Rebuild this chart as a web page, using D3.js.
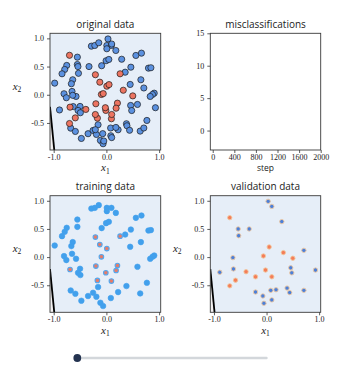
<!DOCTYPE html>
<html><head><meta charset="utf-8">
<script src="https://cdn.jsdelivr.net/npm/d3@7"></script>
<style>body{margin:0;background:#fff}</style>
</head><body><svg id="c" width="358" height="376"></svg>
<script>
// ---------- data ----------
const trainBlueX = [-0.285,-0.22,-0.145,0.008,0.095,0.008,0.179,-0.551,-0.551,-0.09,-0.006,0.046,0.559,0.665,-0.753,-0.791,-0.842,-0.981,-0.639,-0.665,0.356,0.464,0.798,0.844,0.451,0.654,-0.652,-0.804,-0.76,-0.576,-0.50,-0.538,-0.494,0.589,0.907,0.875,0.831,-0.158,-0.677,-0.589,-0.475,-0.348,-0.253,-0.19,-0.114,-0.063,0.768,0.38,0.222,0.641,0.084];
const trainBlueY = [0.862,0.874,0.922,0.874,0.874,0.816,0.785,0.667,0.537,0.515,0.603,0.626,0.697,0.738,0.52,0.449,0.372,0.206,0.266,0.195,0.40,0.489,0.472,0.479,0.183,0.266,0.059,0.018,-0.053,-0.03,-0.207,-0.278,-0.319,-0.172,0.028,0.005,-0.03,-0.532,-0.592,-0.651,-0.775,-0.691,-0.633,-0.704,-0.81,-0.869,-0.456,-0.514,-0.621,-0.645,-0.727];
const trainRedX = [-0.209,-0.125,0.008,-0.095,0.26,-0.69,-0.20,-0.011,-0.171,0.209,0.184,0.095];
const trainRedY = [0.355,0.223,0.152,0.005,0.372,-0.22,-0.16,-0.278,-0.415,-0.149,-0.238,-0.426];
const valBlueX = [0.03,0.10,0.29,-0.54,-0.33,-0.53,0.71,-0.64,-0.89,-0.63,0.46,0.48,0.93,-0.21,-0.07,-0.05,0.08,0.18,0.39,0.44,0.71,0.10];
const valBlueY = [0.99,0.90,0.63,0.50,0.50,0.38,0.12,-0.01,-0.27,-0.21,-0.19,-0.28,-0.23,-0.62,-0.69,-0.82,-0.59,-0.58,-0.55,-0.63,-0.59,-0.76];
const valRedX = [-0.70,0.05,0.32,0.50,-0.06,-0.02,-0.39,-0.21,0.10,-0.59,-0.70];
const valRedY = [0.70,0.18,0.08,-0.02,0.02,-0.23,-0.26,-0.35,-0.35,-0.41,-0.51];
// decision boundary at step 0 (two points on the line)
const boundaryX = [-1.07, -0.989];
const boundaryY = [-0.213, -0.98];
// axes / ticks
const scatterXDomain = [-1.07, 1.03];
const scatterYDomain = [-0.98, 1.09];
const scatterXTicks = [-1, 0, 1];
const scatterXTickLabels = ["-1.0", "0.0", "1.0"];
const scatterYTicks = [1, 0.5, 0, -0.5];
const scatterYTickLabels = ["1.0", "0.5", "0.0", "-0.5"];
const stepDomain = [-45, 2000];
const misDomain = [-3, 15];
const stepTicks = [0, 400, 800, 1200, 1600, 2000];
const misTicks = [15, 10, 5, 0];
const sliderRange = [0, 2000];
const currentStep = 0;
const titles = ["original data", "misclassifications", "training data", "validation data"];

// ---------- drawing ----------
const svg = d3.select("#c");
const SERIF = "'Liberation Serif','DejaVu Serif',serif";
const SANS = "'Open Sans','Noto Sans',sans-serif";
const boxes = {
  tl: {x0: 50, x1: 160.7, y0: 33.3, y1: 150},
  tr: {x0: 210.3, x1: 320.7, y0: 33.3, y1: 150},
  bl: {x0: 50, x1: 160.7, y0: 195.7, y1: 312.3},
  br: {x0: 210.3, x1: 320.7, y0: 195.7, y1: 312.3}
};

function styleAxis(g) {
  g.select(".domain").remove();
  g.selectAll(".tick line").attr("stroke", "#333").attr("stroke-width", 0.8);
  g.selectAll(".tick text").attr("font-family", SERIF).attr("font-size", 8).attr("fill", "#222");
}

function title(b, t) {
  svg.append("text").attr("x", (b.x0 + b.x1) / 2).attr("y", b.y0 - 5.5)
    .attr("text-anchor", "middle").attr("font-family", SANS).attr("font-size", 10)
    .attr("fill", "#222").text(t);
}

function mathLabel(x, y, sub, anchor) {
  const t = svg.append("text").attr("x", x).attr("y", y).attr("text-anchor", anchor || "middle")
    .attr("font-family", SERIF).attr("fill", "#222");
  t.append("tspan").attr("font-style", "italic").attr("font-size", 11).text("x");
  t.append("tspan").attr("font-size", 7.5).attr("dy", 2.2).text(sub);
}

let clipId = 0;
function scatterPanel(b, name, drawPoints, showYLabel) {
  const sx = d3.scaleLinear().domain(scatterXDomain).range([b.x0, b.x1]);
  const sy = d3.scaleLinear().domain(scatterYDomain).range([b.y1, b.y0]);
  const id = "clip" + (clipId++);
  svg.append("clipPath").attr("id", id).append("rect")
    .attr("x", b.x0).attr("y", b.y0).attr("width", b.x1 - b.x0).attr("height", b.y1 - b.y0);
  const g = svg.append("g").attr("clip-path", `url(#${id})`);
  g.append("rect").attr("x", b.x0).attr("y", b.y0).attr("width", b.x1 - b.x0)
    .attr("height", b.y1 - b.y0).attr("fill", "#e6eef8");
  // region on the other side of the boundary
  const xmin = scatterXDomain[0], ymin = scatterYDomain[0];
  g.append("path").attr("d", d3.line()([[sx(xmin), sy(ymin)], [sx(boundaryX[0]), sy(boundaryY[0])], [sx(boundaryX[1]), sy(boundaryY[1])]]))
    .attr("fill", "#f3f1f2");
  drawPoints(g, sx, sy);
  g.append("line").attr("x1", sx(boundaryX[0])).attr("y1", sy(boundaryY[0]))
    .attr("x2", sx(boundaryX[1])).attr("y2", sy(boundaryY[1]))
    .attr("stroke", "#000").attr("stroke-width", 1.8);
  svg.append("rect").attr("x", b.x0).attr("y", b.y0).attr("width", b.x1 - b.x0)
    .attr("height", b.y1 - b.y0).attr("fill", "none").attr("stroke", "#3a3a3a").attr("stroke-width", 0.9);
  svg.append("g").attr("transform", `translate(0,${b.y1})`)
    .call(d3.axisBottom(sx).tickValues(scatterXTicks).tickSize(3).tickPadding(1)
      .tickFormat((d, i) => scatterXTickLabels[i])).call(styleAxis);
  svg.append("g").attr("transform", `translate(${b.x0},0)`)
    .call(d3.axisLeft(sy).tickValues(scatterYTicks).tickSize(3).tickPadding(3)
      .tickFormat((d, i) => scatterYTickLabels[i])).call(styleAxis);
  title(b, name);
  mathLabel((b.x0 + b.x1) / 2, b.y1 + 21.3, "1");
  if (showYLabel) mathLabel(b.x0 - 33, (b.y0 + b.y1) / 2 - 2, "2");
}

function dots(g, sx, sy, xs, ys, r, fill, stroke, sw) {
  g.append("g").selectAll("circle").data(xs).join("circle")
    .attr("cx", (d) => sx(d)).attr("cy", (d, i) => sy(ys[i])).attr("r", r)
    .attr("fill", fill).attr("stroke", stroke).attr("stroke-width", sw);
}

// original data
scatterPanel(boxes.tl, titles[0], (g, sx, sy) => {
  dots(g, sx, sy, trainBlueX.concat(valBlueX), trainBlueY.concat(valBlueY), 3.1, "#5b91e0", "#1a1a1a", 0.7);
  dots(g, sx, sy, trainRedX.concat(valRedX), trainRedY.concat(valRedY), 3.1, "#ec7461", "#1a1a1a", 0.7);
}, true);
// training
scatterPanel(boxes.bl, titles[2], (g, sx, sy) => {
  dots(g, sx, sy, trainBlueX, trainBlueY, 2.8, "#42a0ec", "#42a0ec", 0.6);
  dots(g, sx, sy, trainRedX, trainRedY, 2.3, "#e57c69", "#55a6ec", 1.1);
}, true);
// validation
scatterPanel(boxes.br, titles[3], (g, sx, sy) => {
  dots(g, sx, sy, valBlueX, valBlueY, 2.2, "#4d80d8", "#f0c8a0", 0.9);
  dots(g, sx, sy, valRedX, valRedY, 2.2, "#f47d58", "#f0c8a0", 0.9);
}, true);

// misclassifications panel
(function () {
  const b = boxes.tr;
  const sx = d3.scaleLinear().domain(stepDomain).range([b.x0, b.x1]);
  const sy = d3.scaleLinear().domain(misDomain).range([b.y1, b.y0]);
  svg.append("rect").attr("x", b.x0).attr("y", b.y0).attr("width", b.x1 - b.x0)
    .attr("height", b.y1 - b.y0).attr("fill", "#fff").attr("stroke", "#3a3a3a").attr("stroke-width", 0.9);
  svg.append("g").attr("transform", `translate(0,${b.y1})`)
    .call(d3.axisBottom(sx).tickValues(stepTicks).tickSize(3).tickPadding(1.5).tickFormat(d3.format("d"))).call(styleAxis);
  svg.append("g").attr("transform", `translate(${b.x0},0)`)
    .call(d3.axisLeft(sy).tickValues(misTicks).tickSize(3).tickPadding(3).tickFormat(d3.format("d"))).call(styleAxis);
  title(b, titles[1]);
  svg.append("text").attr("x", (b.x0 + b.x1) / 2).attr("y", b.y1 + 20.5).attr("text-anchor", "middle")
    .attr("font-family", SANS).attr("font-size", 8.5).attr("fill", "#222").text("step");
})();

// slider
const sliderScale = d3.scaleLinear().domain(sliderRange).range([77.3, 266.5]);
svg.append("line").attr("x1", sliderScale(sliderRange[0])).attr("x2", sliderScale(sliderRange[1])).attr("y1", 358).attr("y2", 358)
  .attr("stroke", "#d3d7db").attr("stroke-width", 2.4).attr("stroke-linecap", "round");
svg.append("circle").attr("cx", sliderScale(currentStep)).attr("cy", 358).attr("r", 3.9).attr("fill", "#243350");
</script></body></html>
